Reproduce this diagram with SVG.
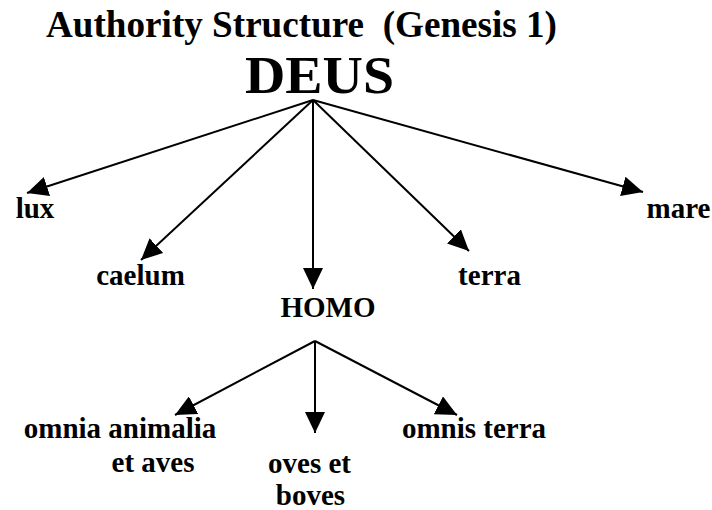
<svg xmlns="http://www.w3.org/2000/svg" width="712" height="510" viewBox="0 0 712 510">
<style>
text{font-family:"Liberation Serif","Times New Roman",serif;font-weight:bold;fill:#000;white-space:pre}
.lbl{font-size:29px;text-anchor:middle}
.con line{stroke:#000;stroke-width:2;fill:none;marker-end:url(#ah)}
</style>
<defs>
<marker id="ah" viewBox="0 0 21 20" refX="21" refY="10" markerWidth="21" markerHeight="20" markerUnits="userSpaceOnUse" orient="auto">
<path d="M0,0 L21,10 L0,20 z" fill="#000"/>
</marker>
</defs>
<rect width="712" height="510" fill="#fff"/>
<g id="title"><text x="46" y="37" font-size="37" textLength="511" lengthAdjust="spacingAndGlyphs" xml:space="preserve">Authority Structure  (Genesis 1)</text></g>
<g id="deus"><text x="319.5" y="93" font-size="52" text-anchor="middle" textLength="149" lengthAdjust="spacingAndGlyphs">DEUS</text></g>
<g class="con" id="connectors">
<line x1="313" y1="100" x2="27" y2="193"/>
<line x1="313" y1="100" x2="141" y2="260"/>
<line x1="313" y1="100" x2="313" y2="289"/>
<line x1="313" y1="100" x2="469" y2="251"/>
<line x1="313" y1="100" x2="643" y2="192"/>
<line x1="315" y1="341" x2="175" y2="415"/>
<line x1="315" y1="341" x2="315" y2="433"/>
<line x1="315" y1="341" x2="457" y2="415"/>
</g>
<g id="lux"><text class="lbl" x="35" y="218">lux</text></g>
<g id="caelum"><text class="lbl" x="140.5" y="285">caelum</text></g>
<g id="homo"><text class="lbl" x="328" y="317">HOMO</text></g>
<g id="terra"><text class="lbl" x="489.5" y="285">terra</text></g>
<g id="mare"><text class="lbl" x="678.5" y="218">mare</text></g>
<g id="omnia"><text class="lbl" x="120" y="438">omnia animalia</text><text class="lbl" x="153" y="472">et aves</text></g>
<g id="oves"><text class="lbl" x="309.5" y="473">oves et</text><text class="lbl" x="310.5" y="505">boves</text></g>
<g id="omnis"><text class="lbl" x="474" y="438">omnis terra</text></g>
</svg>
